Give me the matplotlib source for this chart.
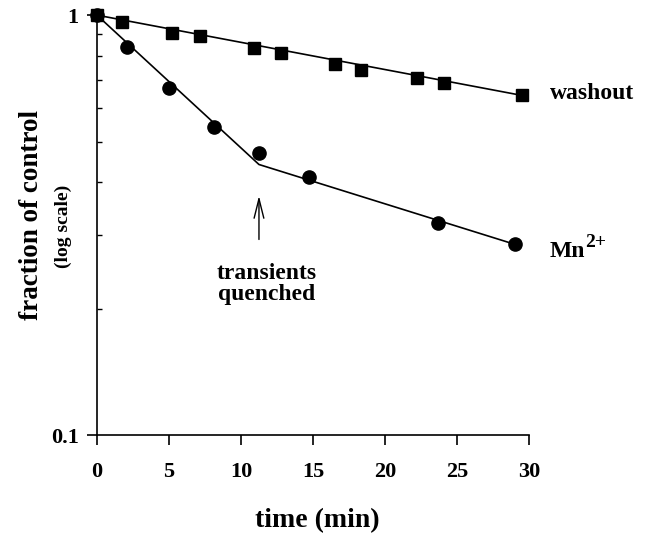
import matplotlib
matplotlib.use("Agg")
import matplotlib.pyplot as plt
from matplotlib.ticker import FixedLocator, NullFormatter, LogLocator

plt.rcParams['font.family'] = ['Liberation Serif', 'DejaVu Serif']
plt.rcParams['font.weight'] = 'bold'

# washout data (squares)
wash_t = [0, 1.76, 5.19, 7.15, 10.9, 12.8, 16.5, 18.3, 22.2, 24.1, 29.5]
wash_y = [1.0, 0.961, 0.908, 0.891, 0.833, 0.813, 0.767, 0.740, 0.707, 0.688, 0.645]
# Mn2+ data (circles)
mn_t = [0, 2.06, 5.02, 8.15, 11.25, 14.72, 23.7, 29.0]
mn_y = [1.0, 0.841, 0.669, 0.542, 0.470, 0.411, 0.320, 0.286]
# fitted lines
wash_fit_t = [0, 29.4]
wash_fit_y = [1.0, 0.645]
mn_fit_t = [0, 11.25, 29.4]
mn_fit_y = [1.0, 0.441, 0.282]

x_ticks = [0, 5, 10, 15, 20, 25, 30]
y_ticks = [0.1, 1]
y_tick_labels = ['0.1', '1']

fig = plt.figure(figsize=(6.46, 5.40), dpi=100)
ax = fig.add_axes([0.150, 0.194, 0.669, 0.778])

ax.plot(wash_fit_t, wash_fit_y, color='black', lw=1.2, zorder=2)
ax.plot(mn_fit_t, mn_fit_y, color='black', lw=1.2, zorder=2)
ax.plot(wash_t, wash_y, 's', color='black', ms=8.5, zorder=3, clip_on=False)
ax.plot(mn_t, mn_y, 'o', color='black', ms=9.5, zorder=3, clip_on=False)

ax.set_yscale('log')
ax.set_xlim(0, 30)
ax.set_ylim(0.1, 1)
ax.set_xticks(x_ticks)
ax.set_xticklabels([str(t) for t in x_ticks], fontsize=16, fontweight='bold')
ax.yaxis.set_major_locator(FixedLocator(y_ticks))
ax.set_yticklabels(y_tick_labels, fontsize=16, fontweight='bold')
ax.yaxis.set_minor_locator(LogLocator(base=10, subs=[0.2, 0.3, 0.4, 0.5, 0.6, 0.7, 0.8, 0.9]))
ax.yaxis.set_minor_formatter(NullFormatter())
ax.tick_params(axis='both', which='major', direction='out', length=7, width=1.2)
ax.tick_params(axis='x', which='major', pad=12)
ax.tick_params(axis='y', which='major', pad=6)
ax.tick_params(axis='y', which='minor', direction='in', length=3.5, width=1.0)
ax.spines['top'].set_visible(False)
ax.spines['right'].set_visible(False)
for s in ['left', 'bottom']:
    ax.spines[s].set_linewidth(1.2)

fig.text(0.491, 0.035, 'time (min)', ha='center', va='center', fontsize=20, fontweight='bold')
fig.text(0.049, 0.602, 'fraction of control', rotation=90, ha='center', va='center', fontsize=19.5, fontweight='bold')
fig.text(0.0975, 0.580, '(log scale)', rotation=90, ha='center', va='center', fontsize=14, fontweight='bold')

ax.text(31.46, 0.652, 'washout', ha='left', va='center', fontsize=17, fontweight='bold')
ax.text(31.46, 0.273, 'Mn', ha='left', va='center', fontsize=17, fontweight='bold')
ax.annotate('2+', xy=(31.46, 0.273), xytext=(25.5, 7), textcoords='offset points',
            ha='left', va='center', fontsize=14, fontweight='bold', annotation_clip=False)
ax.text(11.8, 0.229, 'transients\nquenched', ha='center', va='center', fontsize=17, fontweight='bold', linespacing=1.0)
ax.annotate('', xy=(11.25, 0.377), xytext=(11.25, 0.288),
            arrowprops=dict(arrowstyle='->,head_length=1.0,head_width=0.25', color='black', lw=1.0, mutation_scale=14))

fig.savefig('out.png', dpi=100)
